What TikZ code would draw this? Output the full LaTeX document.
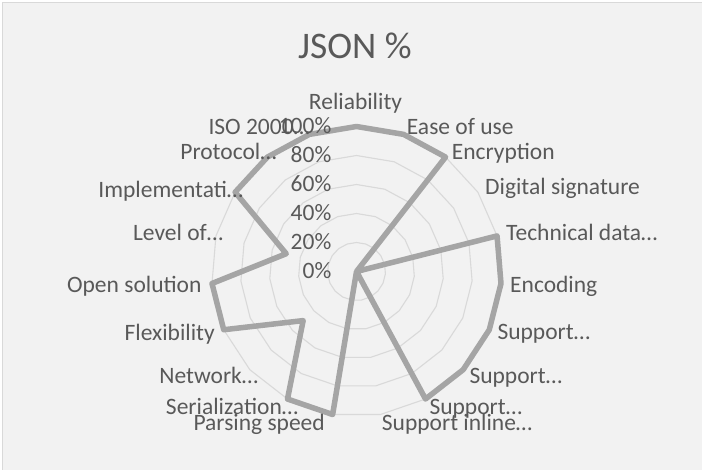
\documentclass[tikz,border=0pt]{standalone}
\usepackage{fontspec}
\setmainfont{Carlito}
\definecolor{chartbg}{HTML}{F2F2F2}
\definecolor{framegray}{HTML}{D9D9D9}
\definecolor{gridgray}{HTML}{D9D9D9}
\definecolor{seriesgray}{HTML}{A5A5A5}
\definecolor{textgray}{HTML}{595959}
\begin{document}
\begin{tikzpicture}[x=1pt,y=-1pt,
  lbl/.style={font=\fontsize{23.5}{28}\selectfont, text=textgray, inner sep=0pt,
              text height=15pt, text depth=0pt},
  lblw/.style={lbl, anchor=west},
  lble/.style={lbl, anchor=east},
  gridline/.style={draw=gridgray, line width=1.1pt},
  seriesline/.style={draw=seriesgray, line width=5.5pt, line join=round}]
\useasboundingbox (0,0) rectangle (702,470);
\fill[white] (0,0) rectangle (702,470);
\fill[chartbg] (2,2) rectangle (702,470);
\draw[framegray, line width=1.2pt] (2.6,470) -- (2.6,2.6) -- (702,2.6);

% title
\node[font=\fontsize{37.5}{45}\selectfont, text=textgray, inner sep=0pt,
      text height=24pt, text depth=0pt] (title) at (355,47) {JSON \%};

% radar grid and series
\begin{scope}[shift={(356.5,271.5)}]
  \foreach \k in {1,...,5} {
    \draw[gridline] (-90:29*\k) \foreach \i in {1,...,18} { -- (-90+\i*360/19:29*\k) } -- cycle;
  }
  \foreach \v [count=\i from 0] in {1,1,1,0,1,1,1,1,1,0,1,1,0.5,1,1,0.5,1,1,1} {
    \coordinate (v\i) at (-90+\i*360/19:145*\v);
  }
  \draw[seriesline] (v0) -- (v1) -- (v2) -- (v3) -- (v4) -- (v5) -- (v6) -- (v7)
    -- (v8) -- (v9) -- (v10) -- (v11) -- (v12) -- (v13) -- (v14) -- (v15)
    -- (v16) -- (v17) -- (v18) -- cycle;
\end{scope}

% value axis labels
\node[lble] (a0)   at (331.5,271.5) {0\%};
\node[lble] (a20)  at (331.5,242.5) {20\%};
\node[lble] (a40)  at (331.5,213.5) {40\%};
\node[lble] (a60)  at (331.5,184.5) {60\%};
\node[lble] (a80)  at (331.5,155.5) {80\%};
\node[lble] (a100) at (331.5,126.5) {100\%};

% category labels
\node[lbl]  (c1)  at (355.5,102)   {Reliability};
\node[lblw] (c2)  at (406.7,126.7) {Ease of use};
\node[lblw] (c3)  at (451.7,151.7) {Encryption};
\node[lblw] (c4)  at (485,187.3)   {Digital signature};
\node[lblw] (c5)  at (506,233.3)   {Technical data…};
\node[lblw] (c6)  at (510,285)     {Encoding};
\node[lblw] (c7)  at (497.3,331.7) {Support…};
\node[lblw] (c8)  at (469.3,376)   {Support…};
\node[lblw] (c9)  at (429.3,406.7) {Support…};
\node[lblw] (c10) at (381.7,423.3) {Support inline…};
\node[lble] (c11) at (325,423.3)   {Parsing speed};
\node[lble] (c12) at (298.3,407.3) {Serialization…};
\node[lble] (c13) at (258.3,375.7) {Network…};
\node[lble] (c14) at (215,332.7)   {Flexibility};
\node[lble] (c15) at (201.7,285)   {Open solution};
\node[lble] (c16) at (223.3,233.3) {Level of…};
\node[lble] (c17) at (243.3,190)   {Implementati…};
\node[lble] (c18) at (276.7,151.7) {Protocol…};
\node[lblw] (c19) at (208.3,126.7) {ISO 2000…};
\end{tikzpicture}
\end{document}
